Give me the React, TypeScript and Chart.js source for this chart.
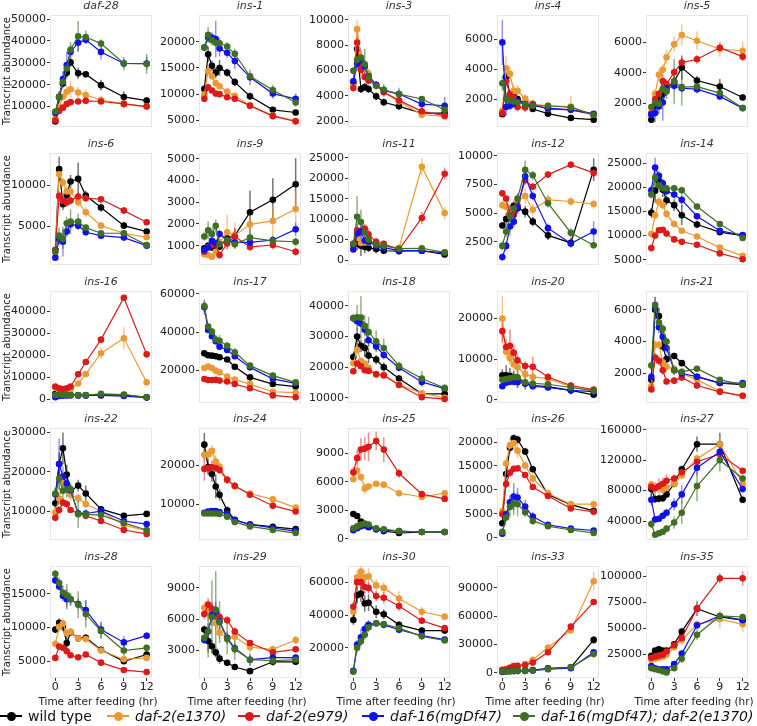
import React, { useEffect, useRef } from 'react';
import { Chart, registerables } from 'chart.js';
Chart.register(...registerables);

const FONT = "'DejaVu Sans', sans-serif";
const TIMES = [0, 0.5, 1, 1.5, 2, 3, 4, 6, 9, 12];
const X_TICKS = [0, 3, 6, 9, 12];
const X_TITLE = 'Time after feeding (hr)';
const Y_TITLE = 'Transcript abundance';
const SERIES = ['wild type', 'daf-2(e1370)', 'daf-2(e979)', 'daf-16(mgDf47)', 'daf-16(mgDf47); daf-2(e1370)'];
const COLORS = ['#000000', '#EA9A35', '#DC1A1A', '#1111EE', '#3F6F22'];
const ERR_COLORS = ['rgba(0,0,0,0.55)', 'rgba(234,154,53,0.55)', 'rgba(220,26,26,0.5)', 'rgba(17,17,238,0.45)', 'rgba(63,111,34,0.55)'];

// series order in each panel: wild type, e1370, e979, mgDf47, mgDf47;e1370
const daf28 = [
  [3200, 14200, 20600, 25500, 30200, 25200, 24800, 19800, 14400, 12700],
  [4400, 9700, 14500, 16800, 17900, 16400, 15300, 13000, 11200, 10000],
  [3600, 8000, 9500, 11200, 12000, 12300, 12600, 12300, 11200, 10000],
  [7000, 14500, 22600, 29000, 35000, 39200, 40600, 35000, 29700, 29700],
  [7700, 14400, 21200, 27400, 36000, 42100, 41800, 38800, 29700, 29500]];
const daf28Err = [
  [0, 1500, 1500, 2000, 2000, 2500, 1500, 2500, 2500, 1500],
  [500, 2500, 2000, 3000, 4000, 2500, 2500, 2000, 2500, 1500],
  [300, 1000, 1000, 1000, 800, 800, 800, 1000, 1000, 1000],
  [1000, 2500, 3500, 6000, 3000, 4000, 2000, 3500, 3000, 3000],
  [800, 2500, 3000, 3000, 3500, 7000, 3000, 2000, 2000, 4500]];
const ins1 = [
  [11000, 17600, 15400, 14100, 15000, 14100, 12300, 9600, 7000, 6500],
  [9900, 14400, 13400, 12100, 11500, 10500, 9700, 7800, 5900, 4900],
  [9100, 11300, 10700, 10100, 10000, 9400, 9100, 7800, 5800, 4800],
  [18900, 20800, 20800, 20500, 18700, 17900, 16300, 13200, 10100, 9100],
  [18900, 21300, 20300, 19800, 19700, 19100, 17700, 13400, 10800, 8400]];
const ins1Err = [
  [600, 1500, 1000, 1000, 1500, 800, 800, 700, 500, 500],
  [500, 800, 700, 600, 600, 500, 500, 400, 300, 300],
  [400, 500, 500, 400, 400, 300, 300, 300, 300, 300],
  [600, 800, 1000, 3500, 1500, 1000, 1500, 1500, 1000, 1000],
  [700, 1500, 1000, 800, 1000, 800, 1000, 700, 1000, 800]];
const ins3 = [
  [5000, 7700, 4540, 4700, 4540, 3970, 3500, 3180, 2650, 2650],
  [4960, 9260, 6980, 6190, 5750, 4880, 4280, 3570, 2520, 2390],
  [4620, 8210, 6060, 5490, 5200, 4830, 4310, 3650, 2790, 2450],
  [5150, 6530, 6770, 6330, 5540, 4880, 4440, 4150, 3360, 3230],
  [5980, 6850, 7030, 6500, 5490, 4800, 4490, 4150, 3760, 2920]];
const ins3Err = [
  [300, 500, 300, 300, 300, 300, 300, 200, 200, 200],
  [300, 700, 500, 400, 400, 300, 300, 300, 300, 300],
  [200, 500, 400, 300, 300, 300, 300, 200, 200, 200],
  [300, 500, 500, 500, 500, 300, 500, 500, 300, 700],
  [300, 500, 600, 1200, 400, 300, 300, 300, 200, 300]];
const ins4 = [
  [1000, 3480, 2330, 2180, 2000, 1690, 1340, 1030, 740, 630],
  [1230, 4060, 3680, 2550, 2550, 2040, 1670, 1560, 1510, 960],
  [1070, 3190, 2290, 2130, 1470, 1450, 1670, 1340, 1290, 960],
  [5780, 1470, 1560, 1690, 1850, 1670, 1560, 1400, 1290, 1030],
  [3060, 2020, 1910, 1850, 1780, 1670, 1560, 1560, 1450, 960]];
const ins4Err = [
  [100, 300, 200, 200, 200, 150, 150, 100, 100, 100],
  [200, 800, 500, 400, 400, 300, 200, 200, 700, 150],
  [100, 300, 300, 200, 300, 300, 300, 200, 200, 150],
  [1500, 600, 300, 300, 300, 200, 200, 200, 200, 150],
  [500, 300, 200, 200, 200, 200, 200, 200, 200, 100]];
const ins5 = [
  [907, 1830, 2330, 2600, 3000, 3420, 4340, 3490, 3090, 2370],
  [1390, 2610, 3860, 4190, 5020, 5870, 6480, 6110, 5560, 5450],
  [1300, 2260, 2610, 3460, 3250, 4030, 4670, 4890, 5650, 5060],
  [1240, 1340, 1780, 2040, 2980, 3140, 2980, 2920, 2440, 1670],
  [1740, 2000, 1960, 2920, 2770, 3420, 3050, 3090, 2660, 1670]];
const ins5Err = [
  [150, 300, 300, 300, 300, 400, 800, 300, 500, 200],
  [200, 300, 400, 400, 500, 500, 700, 600, 500, 600],
  [200, 300, 300, 400, 300, 300, 300, 300, 300, 300],
  [300, 600, 500, 1200, 500, 300, 300, 300, 200, 200],
  [200, 300, 300, 300, 500, 1500, 1200, 300, 300, 200]];
const ins6 = [
  [2150, 12000, 7720, 8860, 10490, 10810, 8780, 7320, 5120, 4390],
  [1950, 11380, 10370, 9270, 9270, 7970, 6750, 5120, 4190, 3700],
  [2150, 8740, 8130, 7930, 8170, 8660, 8460, 8330, 6950, 5530],
  [1220, 3460, 3170, 4390, 5280, 5120, 4310, 3900, 3660, 2680],
  [1950, 3900, 3500, 5410, 5610, 5610, 4880, 4190, 4190, 2760]];
const ins6Err = [
  [300, 1500, 700, 800, 800, 2000, 600, 500, 400, 400],
  [300, 800, 600, 800, 1200, 600, 600, 400, 300, 300],
  [300, 600, 600, 500, 500, 500, 500, 400, 400, 300],
  [200, 700, 1800, 700, 600, 500, 400, 300, 300, 300],
  [300, 1000, 1200, 800, 1500, 1000, 400, 300, 300, 300]];
const ins9 = [
  [880, 1000, 910, 950, 950, 1340, 1460, 2540, 3110, 3830],
  [600, 570, 490, 720, 1150, 1620, 1460, 1980, 2140, 2690],
  [720, 950, 1030, 1060, 570, 1100, 1420, 940, 1030, 720],
  [800, 910, 1220, 1110, 1540, 1260, 1150, 1150, 1260, 1750],
  [1420, 1710, 1540, 1920, 1060, 1260, 1060, 1370, 1220, 1180]];
const ins9Err = [
  [100, 100, 100, 100, 150, 200, 300, 1000, 1000, 1200],
  [100, 100, 100, 200, 300, 800, 600, 600, 700, 800],
  [100, 150, 150, 150, 200, 250, 400, 200, 200, 200],
  [100, 100, 200, 200, 200, 200, 200, 200, 200, 300],
  [200, 400, 300, 300, 200, 200, 200, 200, 200, 200]];
const ins11 = [
  [3700, 4000, 3500, 3200, 3000, 2700, 2300, 2200, 2300, 1400],
  [4000, 5500, 4200, 4300, 4300, 4000, 3500, 3000, 22800, 11500],
  [4000, 7300, 7000, 7700, 6300, 4500, 4000, 2600, 10300, 21100],
  [2600, 6500, 7000, 4800, 4500, 3500, 3000, 2400, 2300, 1800],
  [4000, 10600, 9300, 6800, 5000, 3800, 3500, 2800, 2900, 1900]];
const ins11Err = [
  [1000, 1500, 2500, 1500, 1000, 1000, 800, 600, 600, 500],
  [800, 1500, 1000, 800, 800, 700, 600, 600, 2000, 1500],
  [1000, 1500, 1200, 1200, 1500, 1000, 800, 500, 1500, 1500],
  [600, 1500, 1500, 1500, 1000, 700, 600, 400, 400, 400],
  [800, 5000, 3000, 1500, 1000, 800, 700, 500, 500, 400]];
const ins12 = [
  [3910, 4480, 5000, 5630, 5430, 5120, 4250, 3050, 2390, 8790],
  [5690, 5550, 4910, 5200, 6060, 6490, 5290, 6150, 6010, 5780],
  [6720, 6260, 4830, 4830, 5630, 7870, 7300, 8360, 9220, 8510],
  [1150, 2130, 3820, 4250, 5490, 8220, 6490, 3680, 2330, 3390],
  [2130, 3390, 4710, 5400, 6260, 8790, 8300, 5860, 3280, 2180]];
const ins12Err = [
  [300, 500, 700, 400, 500, 500, 400, 400, 400, 1000],
  [400, 400, 400, 400, 500, 700, 500, 500, 400, 400],
  [300, 300, 300, 300, 400, 400, 300, 300, 300, 400],
  [300, 400, 800, 500, 400, 500, 400, 400, 300, 900],
  [400, 500, 500, 500, 500, 800, 400, 400, 400, 300]];
const ins14 = [
  [14700, 19300, 21300, 19500, 17300, 16300, 14200, 12300, 10700, 10000],
  [10300, 14200, 17000, 16300, 14500, 12400, 11000, 9800, 7500, 5800],
  [7400, 10000, 11100, 11200, 10400, 9200, 8700, 8100, 6300, 5100],
  [19400, 24100, 22400, 20800, 19200, 18500, 17400, 14000, 11000, 10100],
  [18500, 22000, 20400, 19800, 19800, 19800, 19400, 16000, 12400, 9500]];
const ins14Err = [
  [1000, 2500, 1500, 1500, 1000, 1200, 2000, 800, 600, 500],
  [600, 700, 1000, 800, 800, 700, 600, 500, 400, 400],
  [500, 500, 500, 500, 400, 400, 400, 300, 300, 300],
  [1000, 2000, 1000, 1000, 800, 800, 1500, 600, 500, 600],
  [800, 1000, 800, 800, 700, 700, 700, 500, 500, 500]];
const ins16 = [
  [2500, 2200, 2100, 2000, 2000, 1800, 1800, 2000, 2000, 900],
  [5500, 3500, 3800, 4000, 4500, 7200, 11500, 21000, 27800, 7800],
  [5800, 5000, 4700, 5000, 5800, 11400, 17000, 27200, 46300, 20500],
  [1000, 1500, 1600, 1700, 1800, 1800, 1800, 1800, 1500, 800],
  [2000, 2200, 2100, 2000, 2000, 1900, 1900, 2500, 2200, 900]];
const ins16Err = [
  [300, 300, 300, 300, 300, 300, 300, 300, 300, 200],
  [600, 600, 500, 500, 600, 700, 1000, 2500, 5000, 1500],
  [600, 500, 500, 500, 600, 800, 1000, 800, 1000, 1500],
  [200, 300, 300, 300, 300, 300, 300, 300, 300, 200],
  [300, 300, 300, 300, 300, 300, 300, 600, 500, 200]];
const ins17 = [
  [29000, 28000, 27800, 27500, 27000, 25800, 22000, 16500, 13000, 11700],
  [21400, 22100, 21400, 20000, 19100, 16900, 15300, 13000, 9000, 8500],
  [15600, 15100, 15100, 15200, 14800, 14300, 13000, 10800, 7100, 6100],
  [53000, 41200, 37900, 35300, 32500, 30800, 27500, 21700, 15700, 13400],
  [53600, 43000, 40300, 36200, 35600, 32900, 29600, 22600, 17400, 13900]];
const ins17Err = [
  [1000, 800, 800, 800, 800, 800, 800, 700, 600, 500],
  [1500, 1200, 1500, 1200, 1000, 1000, 1000, 800, 800, 600],
  [800, 600, 600, 600, 600, 600, 600, 500, 500, 400],
  [4000, 1500, 1500, 1500, 1500, 1500, 1500, 1000, 1000, 800],
  [3000, 1500, 2000, 2500, 3000, 2000, 2000, 1500, 1500, 1000]];
const ins18 = [
  [23300, 30000, 27000, 26300, 23800, 22500, 20000, 16300, 11300, 11300],
  [21300, 25700, 22000, 21200, 19800, 17500, 17600, 14300, 11500, 10000],
  [18700, 21200, 20300, 19000, 18800, 17800, 17300, 14200, 10200, 9600],
  [36000, 35000, 34300, 32200, 28800, 26800, 24000, 19800, 15200, 13000],
  [36000, 36300, 36200, 33500, 31500, 28500, 26300, 20400, 16300, 13200]];
const ins18Err = [
  [1500, 3000, 2000, 3000, 2500, 1500, 1500, 1000, 1000, 1000],
  [1000, 1500, 1000, 800, 800, 700, 700, 700, 700, 600],
  [800, 800, 800, 700, 700, 600, 600, 600, 500, 500],
  [1000, 1500, 1500, 1500, 2000, 1500, 1500, 1000, 1500, 1500],
  [1500, 4000, 7000, 3500, 5000, 3500, 3000, 1500, 2500, 1000]];
const ins20 = [
  [6000, 6000, 5900, 5600, 5300, 4000, 3500, 3200, 2300, 1200],
  [20000, 11800, 10300, 8700, 8000, 6300, 5600, 5200, 3200, 2100],
  [16900, 13000, 13300, 11600, 9700, 8300, 8100, 5600, 3500, 2500],
  [3300, 4200, 4400, 4400, 4300, 4000, 3300, 3000, 2300, 2000],
  [4900, 5100, 5300, 5500, 5500, 4300, 4000, 3800, 3000, 2200]];
const ins20Err = [
  [1500, 2500, 2000, 1500, 2500, 1500, 1000, 1000, 800, 500],
  [5500, 1500, 1500, 1500, 1500, 1200, 1000, 800, 600, 400],
  [3000, 2000, 4000, 2000, 1500, 1200, 2500, 1000, 800, 500],
  [500, 800, 800, 800, 800, 600, 500, 500, 1000, 400],
  [800, 800, 800, 800, 800, 600, 600, 500, 500, 400]];
const ins21 = [
  [1600, 6000, 5600, 3700, 2900, 3100, 2650, 1800, 1400, 1300],
  [1200, 3800, 3800, 2700, 2400, 2300, 2000, 1600, 900, 600],
  [1000, 3000, 2800, 2200, 1500, 1550, 1750, 1250, 850, 600],
  [1800, 6100, 4900, 4300, 3600, 2200, 2000, 1800, 1400, 1400],
  [2500, 6300, 5200, 4800, 4000, 2200, 2100, 2300, 1600, 1300]];
const ins21Err = [
  [200, 400, 500, 300, 300, 200, 200, 150, 150, 100],
  [200, 300, 300, 300, 300, 200, 200, 150, 100, 100],
  [150, 300, 300, 300, 200, 200, 200, 150, 100, 100],
  [300, 700, 400, 400, 300, 300, 200, 150, 150, 100],
  [300, 500, 400, 300, 300, 200, 200, 150, 150, 150]];
const ins22 = [
  [12000, 22000, 26000, 19300, 15000, 16500, 14500, 10500, 8800, 9300],
  [9700, 13200, 17800, 16800, 14200, 13300, 11800, 9900, 6500, 5000],
  [8300, 10300, 12200, 11800, 10300, 9400, 8800, 7500, 5200, 4200],
  [14300, 22000, 18800, 17000, 15300, 9400, 9400, 10000, 7500, 6700],
  [14500, 18300, 15200, 15500, 15600, 9200, 9200, 9000, 7000, 5200]];
const ins22Err = [
  [1500, 3000, 4000, 2500, 1500, 1500, 2000, 800, 800, 700],
  [1000, 1500, 2000, 1500, 1500, 1200, 1000, 700, 600, 500],
  [800, 1000, 1000, 1000, 800, 800, 800, 600, 500, 500],
  [1500, 6500, 2500, 2000, 1500, 1000, 1000, 800, 700, 600],
  [1500, 3000, 3000, 2000, 1500, 3500, 1000, 800, 700, 600]];
const ins24 = [
  [25300, 19600, 17800, 14600, 12500, 8500, 6100, 4900, 4300, 3700],
  [22700, 22800, 23700, 21000, 19700, 16300, 14600, 12800, 11300, 9200],
  [19100, 19300, 19600, 19300, 18800, 16300, 14800, 12500, 9700, 8200],
  [7900, 8200, 8300, 8300, 8100, 7700, 6000, 4900, 4000, 3200],
  [7700, 7700, 7700, 7700, 7600, 6900, 5500, 4400, 3500, 2700]];
const ins24Err = [
  [3000, 2000, 2000, 3000, 1500, 1000, 600, 500, 400, 400],
  [1500, 1500, 1500, 1500, 1000, 1000, 1000, 800, 700, 600],
  [3000, 1500, 1500, 1000, 1000, 1000, 800, 700, 600, 500],
  [500, 500, 500, 500, 500, 400, 400, 400, 300, 300],
  [500, 500, 500, 500, 500, 400, 400, 300, 300, 300]];
const ins25 = [
  [2600, 2400, 1800, 1500, 1200, 1000, 800, 600, 700, 700],
  [6300, 7200, 6500, 5300, 5500, 5800, 5700, 4800, 4400, 4800],
  [7000, 8500, 9400, 9500, 9700, 10300, 9400, 6900, 4700, 4200],
  [900, 1100, 1300, 1400, 1300, 1000, 900, 800, 700, 700],
  [1100, 1300, 1500, 1600, 1500, 1100, 1000, 800, 700, 700]];
const ins25Err = [
  [200, 200, 200, 200, 200, 150, 150, 100, 100, 100],
  [400, 500, 400, 600, 400, 300, 300, 300, 200, 200],
  [600, 800, 1200, 1200, 1500, 1000, 1300, 500, 300, 300],
  [100, 100, 100, 150, 150, 100, 100, 100, 100, 100],
  [100, 150, 150, 150, 150, 100, 100, 100, 100, 100]];
const ins26 = [
  [3000, 13300, 18800, 20800, 20500, 18000, 14300, 9000, 6900, 5600],
  [5500, 15500, 19300, 19800, 18200, 15100, 12400, 9300, 7000, 7000],
  [4900, 11200, 13600, 14400, 14500, 13100, 10600, 8700, 6100, 5400],
  [800, 4900, 7400, 8600, 8400, 6500, 4400, 2700, 1900, 1500],
  [1200, 4200, 6400, 7200, 7000, 5300, 3500, 2400, 1600, 1000]];
const ins26Err = [
  [500, 1000, 1000, 800, 800, 700, 600, 500, 400, 400],
  [800, 1500, 1500, 1500, 1500, 1000, 1000, 800, 800, 800],
  [500, 800, 800, 600, 600, 600, 500, 500, 400, 400],
  [300, 800, 1500, 2800, 2000, 1500, 1000, 500, 400, 300],
  [300, 800, 2000, 2500, 2500, 1000, 800, 500, 400, 300]];
const ins27 = [
  [82000, 69000, 69500, 70000, 75000, 89000, 108000, 141000, 141000, 68000],
  [88000, 83000, 85000, 81000, 84000, 89000, 100000, 122000, 141000, 89000],
  [85000, 83000, 86000, 89000, 93000, 96000, 104000, 118000, 128000, 106000],
  [68000, 42000, 43000, 47000, 51000, 62000, 75000, 110000, 131000, 82000],
  [36000, 22000, 24000, 26000, 30000, 38000, 51000, 86000, 120000, 96000]];
const ins27Err = [
  [10000, 5000, 5000, 5000, 5000, 5000, 5000, 10000, 15000, 3000],
  [5000, 5000, 5000, 5000, 5000, 5000, 5000, 5000, 10000, 5000],
  [5000, 8000, 10000, 8000, 8000, 5000, 5000, 5000, 5000, 3000],
  [8000, 4000, 3000, 4000, 5000, 8000, 12000, 10000, 5000, 4000],
  [5000, 3000, 3000, 3000, 4000, 8000, 15000, 20000, 15000, 5000]];
const ins28 = [
  [9700, 10700, 10200, 7700, 9300, 8400, 8500, 6700, 5000, 6000],
  [7600, 10100, 10600, 9200, 9400, 8400, 8300, 6600, 5300, 5500],
  [5500, 7200, 7000, 6500, 5900, 5600, 6000, 4800, 3700, 3400],
  [17000, 16100, 14700, 14200, 14200, 13500, 12600, 9700, 7800, 8800],
  [18000, 16600, 15200, 14800, 14200, 13400, 12000, 9500, 6600, 7000]];
const ins28Err = [
  [500, 700, 700, 1000, 500, 500, 500, 500, 400, 400],
  [500, 800, 800, 700, 600, 500, 500, 500, 400, 400],
  [300, 400, 400, 400, 400, 300, 300, 300, 200, 200],
  [500, 600, 800, 1500, 800, 800, 1500, 1200, 1000, 500],
  [500, 800, 1000, 1700, 1000, 2000, 2000, 1200, 800, 500]];
const ins29 = [
  [5000, 3900, 3400, 2800, 2200, 1800, 1400, 1000, 1900, 1900],
  [7100, 6800, 6600, 5600, 4700, 4200, 4300, 3300, 3100, 4000],
  [6500, 7400, 7000, 6500, 6200, 5900, 4800, 3700, 2800, 3100],
  [4000, 4800, 6400, 6700, 5800, 4200, 3200, 2100, 2300, 2300],
  [4200, 4800, 6200, 6900, 5700, 4100, 3100, 2100, 2000, 2100]];
const ins29Err = [
  [400, 1000, 600, 500, 500, 300, 300, 200, 300, 300],
  [600, 1000, 800, 600, 600, 500, 500, 500, 400, 400],
  [500, 600, 600, 500, 500, 400, 400, 300, 300, 300],
  [400, 800, 1000, 1000, 800, 600, 500, 600, 400, 300],
  [500, 2500, 3500, 3700, 2000, 1500, 1000, 500, 500, 400]];
const ins30 = [
  [37000, 52000, 53000, 47000, 47500, 42000, 40500, 34000, 30500, 30500],
  [42000, 63000, 66500, 63000, 63500, 58000, 56500, 50000, 42000, 39000],
  [45000, 60000, 60000, 57000, 56500, 51500, 50500, 45500, 36500, 32000],
  [6000, 22000, 26500, 31500, 34000, 35000, 34000, 31000, 27500, 25000],
  [5500, 20000, 24000, 28000, 32500, 35000, 34500, 32000, 27000, 24500]];
const ins30Err = [
  [3000, 5000, 5000, 5000, 5000, 4000, 3000, 2000, 2000, 2000],
  [3000, 4000, 4500, 4000, 5000, 4000, 3500, 4500, 3000, 2000],
  [3000, 4000, 5000, 4000, 3500, 3000, 3500, 3000, 2000, 1500],
  [1000, 3000, 5000, 3000, 3000, 2000, 2000, 1500, 1500, 1500],
  [1000, 3000, 3000, 3000, 3000, 2000, 2000, 1500, 1500, 1500]];
const ins33 = [
  [2500, 2800, 2500, 2500, 2500, 2800, 3000, 5000, 6000, 35000],
  [3000, 4000, 5500, 7500, 7500, 9500, 14000, 27000, 45000, 97000],
  [3500, 4000, 5500, 7000, 7500, 8500, 11000, 22000, 49000, 75000],
  [1000, 1500, 2000, 2000, 2200, 2200, 2500, 4000, 5000, 22000],
  [1500, 1500, 1500, 2000, 2000, 2200, 2500, 4500, 6000, 20000]];
const ins33Err = [
  [500, 500, 500, 500, 500, 500, 800, 1000, 1000, 4000],
  [500, 800, 1000, 1000, 1000, 1500, 2000, 2000, 2000, 10000],
  [500, 800, 1000, 1000, 1000, 1000, 1000, 2000, 2000, 2000],
  [300, 300, 300, 300, 300, 300, 500, 800, 1000, 3000],
  [300, 300, 300, 300, 300, 300, 500, 800, 1000, 4000]];
const ins35 = [
  [24000, 29000, 30000, 29000, 29000, 35000, 47000, 69000, 61000, 58000],
  [20000, 21000, 22000, 23000, 25000, 32000, 39000, 54000, 59000, 54000],
  [22000, 23000, 24000, 25000, 28000, 34000, 41000, 69000, 98000, 98000],
  [14000, 12000, 11000, 11000, 11000, 16000, 26000, 53000, 62000, 58000],
  [12000, 11000, 10000, 9000, 8000, 12000, 21000, 44000, 62000, 61000]];
const ins35Err = [
  [2000, 2000, 2000, 2000, 2000, 2000, 3000, 7000, 2000, 2000],
  [2000, 2000, 2000, 2000, 2000, 3000, 5000, 4000, 9000, 7000],
  [2000, 2000, 2000, 2000, 2000, 2000, 2000, 3000, 5000, 7000],
  [1500, 1500, 1500, 1500, 1500, 2000, 3000, 3000, 3000, 3000],
  [1500, 1500, 1500, 1500, 1500, 2000, 4000, 5000, 3000, 3000]];

const TITLES = ['daf-28', 'ins-1', 'ins-3', 'ins-4', 'ins-5', 'ins-6', 'ins-9', 'ins-11', 'ins-12', 'ins-14',
  'ins-16', 'ins-17', 'ins-18', 'ins-20', 'ins-21', 'ins-22', 'ins-24', 'ins-25', 'ins-26', 'ins-27',
  'ins-28', 'ins-29', 'ins-30', 'ins-33', 'ins-35'];
const MEANS = [daf28, ins1, ins3, ins4, ins5, ins6, ins9, ins11, ins12, ins14, ins16, ins17, ins18, ins20, ins21,
  ins22, ins24, ins25, ins26, ins27, ins28, ins29, ins30, ins33, ins35];
const ERRS = [daf28Err, ins1Err, ins3Err, ins4Err, ins5Err, ins6Err, ins9Err, ins11Err, ins12Err, ins14Err,
  ins16Err, ins17Err, ins18Err, ins20Err, ins21Err, ins22Err, ins24Err, ins25Err, ins26Err, ins27Err,
  ins28Err, ins29Err, ins30Err, ins33Err, ins35Err];
const Y_RANGES = [
  [640, 51800], [3730, 25060], [1555, 10360], [144, 7590], [426, 7790],
  [325, 13940], [108, 5260], [-1180, 26100], [460, 10230], [3900, 27060],
  [-1670, 49280], [3130, 61390], [8310, 44830], [-820, 26750], [150, 7160],
  [2660, 31100], [930, 29500], [-140, 11660], [-490, 22900], [15100, 162000],
  [2520, 19110], [340, 11090], [1660, 69700], [-5300, 112900], [2650, 109600]];
const Y_TICKS = [
  [10000, 20000, 30000, 40000, 50000], [5000, 10000, 15000, 20000], [2000, 4000, 6000, 8000, 10000],
  [2000, 4000, 6000], [2000, 4000, 6000],
  [5000, 10000], [1000, 2000, 3000, 4000, 5000], [0, 5000, 10000, 15000, 20000, 25000],
  [2500, 5000, 7500, 10000], [5000, 10000, 15000, 20000, 25000],
  [0, 10000, 20000, 30000, 40000], [20000, 40000, 60000], [10000, 20000, 30000, 40000],
  [0, 10000, 20000], [2000, 4000, 6000],
  [10000, 20000, 30000], [10000, 20000], [0, 3000, 6000, 9000], [0, 5000, 10000, 15000, 20000],
  [40000, 80000, 120000, 160000],
  [5000, 10000, 15000], [3000, 6000, 9000], [20000, 40000, 60000], [0, 30000, 60000, 90000],
  [25000, 50000, 75000, 100000]];

const COL_LEFT = [50, 199, 348, 497, 646];
const ROW_TOP = [15, 153, 291, 428, 566];
const PLOT_W = 102;
const PLOT_H = 112;
const PAD_R = 10;

const boxPlugin = {
  id: 'panelBox',
  beforeDraw(chart: any) {
    const { ctx, chartArea: a } = chart;
    ctx.save();
    ctx.fillStyle = '#ffffff';
    ctx.fillRect(a.left, a.top, a.width, a.height);
    ctx.strokeStyle = '#E6E6E6';
    ctx.lineWidth = 1;
    ctx.strokeRect(Math.round(a.left) + 0.5, Math.round(a.top) + 0.5, Math.round(a.width) - 1, Math.round(a.height) - 1);
    ctx.restore();
  },
};

const errorBarPlugin = {
  id: 'errorBars',
  beforeDatasetsDraw(chart: any) {
    const { ctx, chartArea: a, scales } = chart;
    const xs = scales.x, ys = scales.y;
    ctx.save();
    ctx.beginPath();
    ctx.rect(a.left, a.top, a.width, a.height);
    ctx.clip();
    chart.data.datasets.forEach((ds: any, s: number) => {
      ctx.strokeStyle = ERR_COLORS[s];
      ctx.lineWidth = 1.5;
      ds.data.forEach((pt: any, i: number) => {
        const e = ds.errs[i];
        if (!e) return;
        const px = xs.getPixelForValue(pt.x);
        ctx.beginPath();
        ctx.moveTo(px, ys.getPixelForValue(pt.y - e));
        ctx.lineTo(px, ys.getPixelForValue(pt.y + e));
        ctx.stroke();
      });
    });
    ctx.restore();
  },
};

// x-axis title drawn without Chart.js's max-width squeeze (it is wider than the plot)
const xTitlePlugin = {
  id: 'xTitle',
  afterDraw(chart: any, _args: any, opts: any) {
    if (!opts || !opts.show) return;
    const { ctx, chartArea: a } = chart;
    ctx.save();
    ctx.fillStyle = '#222222';
    ctx.font = `10.5px ${FONT}`;
    ctx.textAlign = 'center';
    ctx.textBaseline = 'middle';
    ctx.fillText(X_TITLE, (a.left + a.right) / 2 - 3, a.bottom + 24);
    ctx.restore();
  },
};

function Panel({ idx }: { idx: number }) {
  const ref = useRef<HTMLCanvasElement>(null);
  const row = Math.floor(idx / 5);
  const col = idx % 5;
  const bottom = row === 4;
  const first = col === 0;
  const width = 50 + PLOT_W + PAD_R;
  const height = 15 + PLOT_H + (bottom ? 31 : 8);

  useEffect(() => {
    const mean = MEANS[idx];
    const err = ERRS[idx];
    const chart = new Chart(ref.current as HTMLCanvasElement, {
      type: 'line',
      data: {
        datasets: mean.map((vals: number[], s: number) => ({
          label: SERIES[s],
          data: vals.map((v, i) => ({ x: TIMES[i], y: v })),
          errs: err[s],
          borderColor: COLORS[s],
          backgroundColor: COLORS[s],
          pointBackgroundColor: COLORS[s],
          pointBorderColor: COLORS[s],
          borderWidth: 1.2,
          pointRadius: 3.3,
          pointBorderWidth: 0,
          order: 4 - s,
        })) as any,
      },
      options: {
        animation: false,
        responsive: false,
        devicePixelRatio: 1,
        events: [],
        layout: { padding: { top: 0, left: 0, right: PAD_R, bottom: bottom ? 0 : 8 } },
        plugins: {
          legend: { display: false },
          tooltip: { enabled: false },
          xTitle: { show: bottom },
          title: {
            display: true,
            text: TITLES[idx],
            fullSize: false,
            color: '#333333',
            font: { family: FONT, size: 11, style: 'italic', weight: 'normal', lineHeight: 1.2 },
            padding: { top: 0, bottom: 2 },
          },
        },
        scales: {
          x: {
            type: 'linear',
            min: -0.7,
            max: 12.7,
            display: bottom,
            grid: { drawOnChartArea: false, drawTicks: true, tickLength: 3, color: '#333333' },
            border: { display: false },
            afterBuildTicks: (s: any) => { s.ticks = X_TICKS.map((v) => ({ value: v })); },
            afterFit: (s: any) => { if (bottom) s.height = 31; },
            ticks: {
              autoSkip: false,
              maxRotation: 0,
              padding: 0,
              color: '#222222',
              font: { family: FONT, size: 11 },
              callback: (v: any) => String(v),
            },
            title: { display: false },
          },
          y: {
            type: 'linear',
            min: Y_RANGES[idx][0],
            max: Y_RANGES[idx][1],
            grid: { drawOnChartArea: false, drawTicks: true, tickLength: 3, color: '#333333' },
            border: { display: false },
            afterBuildTicks: (s: any) => { s.ticks = Y_TICKS[idx].map((v) => ({ value: v })); },
            afterFit: (s: any) => { s.width = 50; },
            ticks: {
              padding: 1,
              color: '#222222',
              font: { family: FONT, size: 11 },
              callback: (v: any) => String(v),
            },
            title: {
              display: first,
              text: Y_TITLE,
              color: '#222222',
              font: { family: FONT, size: 10 },
              padding: { top: 1, bottom: 0 },
            },
          },
        },
      } as any,
      plugins: [boxPlugin, errorBarPlugin, xTitlePlugin],
    });
    return () => chart.destroy();
  }, [idx]);

  return (
    <canvas
      ref={ref}
      width={width}
      height={height}
      style={{ position: 'absolute', left: COL_LEFT[col] - 50, top: ROW_TOP[row] - 15, width, height }}
    />
  );
}

const LEGEND_LEFT = [0, 107, 238, 362, 513];

function Legend() {
  return (
    <>
      {SERIES.map((name, s) => (
        <div
          key={name}
          style={{
            position: 'absolute', left: LEGEND_LEFT[s], top: 706, height: 20,
            display: 'flex', alignItems: 'center', whiteSpace: 'nowrap',
          }}
        >
          <div style={{ position: 'relative', width: 22, height: 20, marginRight: 6 }}>
            <div style={{ position: 'absolute', left: 0, top: 9, width: 22, height: 2, background: COLORS[s] }} />
            <div style={{ position: 'absolute', left: 6.5, top: 5.5, width: 9, height: 9, borderRadius: '50%', background: COLORS[s] }} />
          </div>
          <span style={{ fontFamily: FONT, fontSize: 14, color: '#111', fontStyle: s === 0 ? 'normal' : 'italic' }}>{name}</span>
        </div>
      ))}
    </>
  );
}

export default function App() {
  return (
    <div style={{ position: 'absolute', left: 0, top: 0, width: 757, height: 726, background: '#ffffff', overflow: 'hidden' }}>
      {TITLES.map((_, i) => (
        <Panel key={i} idx={i} />
      ))}
      <Legend />
    </div>
  );
}
